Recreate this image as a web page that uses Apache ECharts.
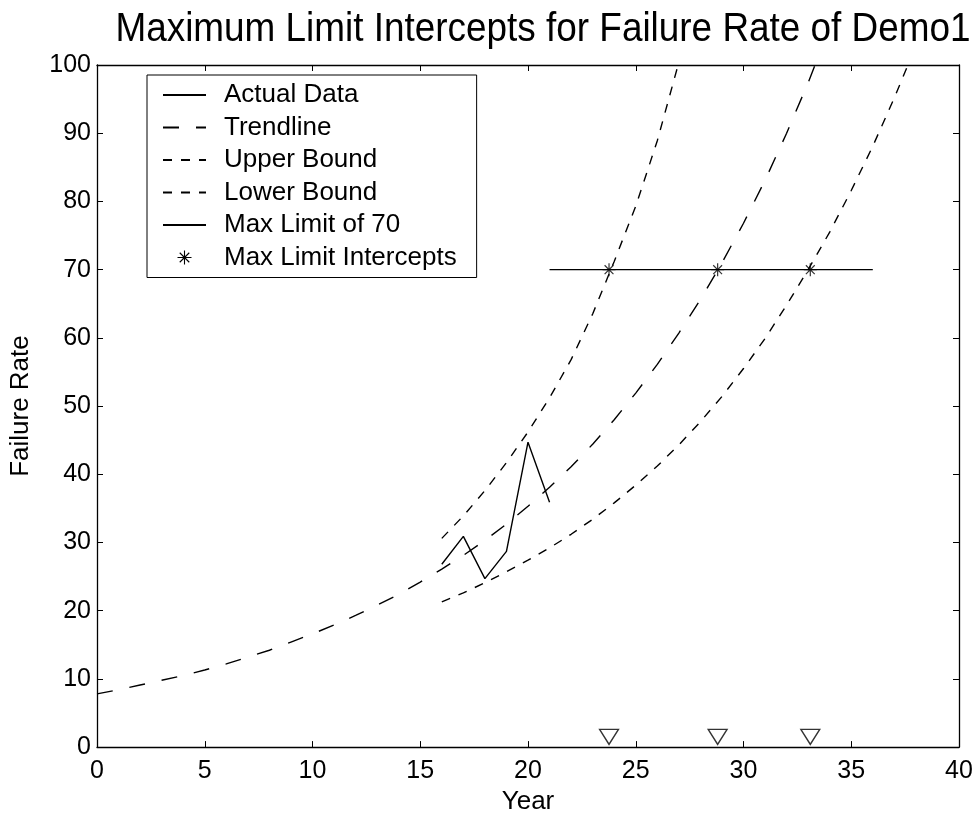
<!DOCTYPE html>
<html>
<head>
<meta charset="utf-8">
<script src="https://cdn.jsdelivr.net/npm/echarts@6/dist/echarts.min.js"></script>
<style>
html,body{margin:0;padding:0;background:#fff;}
#chart{width:978px;height:820px;}
</style>
</head>
<body>
<div id="chart"></div>
<script>
const titleText = 'Maximum Limit Intercepts for Failure Rate of Demo1';
const xTickLabels = [0, 5, 10, 15, 20, 25, 30, 35, 40];
const yTickLabels = [0, 10, 20, 30, 40, 50, 60, 70, 80, 90, 100];

const actualYears = [16, 17, 18, 19, 20, 21];
const actualValues = [26.8, 30.9, 24.7, 28.7, 44.7, 35.9];

const trendYears = [0,1,2,3,4,5,6,7,8,9,10,11,12,13,14,15,16,17,18,19,20,21,22,23,24,25,26,27,28,29,30,31,32,33,34];
const trendValues = [7.8,8.4,9.1,9.8,10.5,11.3,12.2,13.2,14.2,15.4,16.6,17.9,19.3,20.8,22.4,24.2,26.1,28.1,30.3,32.7,35.3,38.1,41.1,44.4,48.0,51.9,56.1,60.7,65.6,71.0,76.8,83.1,90.0,97.4,105.5];

const upperYears = [16,17,18,19,20,21,22,23,24,25,26,27];
const upperValues = [30.6,33.9,37.6,41.7,46.2,51.2,56.8,63.5,71.2,79.3,88.9,100.4];

const lowerYears = [16,17,18,19,20,21,22,23,24,25,26,27,28,29,30,31,32,33,34,35,36,37,38];
const lowerValues = [21.3,22.6,24.1,25.7,27.4,29.2,31.2,33.4,35.8,38.4,41.2,44.3,47.7,51.4,55.5,59.9,64.8,70.0,75.5,81.6,88.1,95.2,102.8];

const limitYears = [21, 36];
const limitValue = 70;

const interceptYears = [23.76, 28.8, 33.1];
const markerLevel = 1.5;

const seriesNames = ['Actual Data', 'Trendline', 'Upper Bound', 'Lower Bound', 'Max Limit of 70', 'Max Limit Intercepts'];

const zip = (xs, ys) => xs.map((x, i) => [x, ys[i]]);
const FONT = '"Liberation Sans", Arial, sans-serif';
const asterisk = 'path://M0,5L10,5M5,0L5,10M1.6,1.6L8.4,8.4M8.4,1.6L1.6,8.4';

const chart = echarts.init(document.getElementById('chart'), null, {renderer: 'canvas'});

const axisCommon = {
  axisLine: {show: true, onZero: false, lineStyle: {color: '#000', width: 1.3}},
  axisTick: {show: true, inside: true, length: 6, lineStyle: {color: '#000', width: 1}},
  splitLine: {show: false}
};

const legendData = seriesNames.map((n, i) => i < 5
  ? {name: n, itemStyle: {opacity: 0}}
  : {name: n, itemStyle: {opacity: 1, color: 'rgba(0,0,0,0)', borderColor: '#000', borderWidth: 1.1}});

const option = {
  backgroundColor: '#fff',
  animation: false,
  graphic: [{
    type: 'text',
    x: 543, y: 30,
    scaleX: 0.9,
    style: {
      text: titleText,
      font: '41px ' + FONT,
      fill: '#000',
      textAlign: 'center',
      textVerticalAlign: 'middle'
    }
  }],
  grid: {left: 97, right: 19, top: 65, bottom: 72, containLabel: false},
  legend: {
    data: legendData,
    orient: 'vertical',
    left: 147, top: 75,
    padding: [7, 20, 7, 15],
    itemWidth: 43, itemHeight: 14, itemGap: 6.5,
    borderColor: '#000', borderWidth: 1,
    backgroundColor: '#fff',
    selectedMode: false,
    textStyle: {fontFamily: FONT, fontSize: 26, color: '#000', lineHeight: 26, padding: [0, 0, 0, 13]}
  },
  xAxis: [
    Object.assign({}, axisCommon, {
      type: 'value', min: 0, max: 40, interval: 5, position: 'bottom',
      name: 'Year', nameLocation: 'middle', nameGap: 40,
      nameTextStyle: {fontFamily: FONT, fontSize: 26, color: '#000'},
      axisLabel: {fontFamily: FONT, fontSize: 25, color: '#000', margin: 12,
        formatter: v => xTickLabels.includes(v) ? String(v) : ''}
    }),
    Object.assign({}, axisCommon, {
      type: 'value', min: 0, max: 40, interval: 5, position: 'top',
      axisLabel: {show: false}
    })
  ],
  yAxis: [
    Object.assign({}, axisCommon, {
      type: 'value', min: 0, max: 100, interval: 10, position: 'left',
      name: 'Failure Rate', nameLocation: 'middle', nameGap: 63,
      nameTextStyle: {fontFamily: FONT, fontSize: 26, color: '#000'},
      axisLabel: {fontFamily: FONT, fontSize: 25, color: '#000', margin: 6,
        formatter: v => yTickLabels.includes(v) ? String(v) : ''}
    }),
    Object.assign({}, axisCommon, {
      type: 'value', min: 0, max: 100, interval: 10, position: 'right',
      axisLabel: {show: false}
    })
  ],
  series: [
    {
      name: seriesNames[0], type: 'line', data: zip(actualYears, actualValues),
      symbol: 'none', lineStyle: {color: '#000', width: 1.4, type: 'solid'},
      itemStyle: {color: '#000'}, clip: true, z: 5
    },
    {
      name: seriesNames[1], type: 'line', data: zip(trendYears, trendValues),
      symbol: 'none', lineStyle: {color: '#000', width: 1.4, type: [16, 17]},
      itemStyle: {color: '#000'}, clip: true
    },
    {
      name: seriesNames[2], type: 'line', data: zip(upperYears, upperValues),
      symbol: 'none', lineStyle: {color: '#000', width: 1.4, type: [9, 9]},
      itemStyle: {color: '#000'}, clip: true
    },
    {
      name: seriesNames[3], type: 'line', data: zip(lowerYears, lowerValues),
      symbol: 'none', lineStyle: {color: '#000', width: 1.4, type: [9, 9]},
      itemStyle: {color: '#000'}, clip: true
    },
    {
      name: seriesNames[4], type: 'line', data: limitYears.map(x => [x, limitValue]),
      symbol: 'none', lineStyle: {color: '#000', width: 1.4, type: 'solid'},
      itemStyle: {color: '#000'}, clip: true
    },
    {
      name: seriesNames[5], type: 'scatter', data: interceptYears.map(x => [x, limitValue]),
      symbol: asterisk, symbolSize: 13,
      itemStyle: {color: 'rgba(0,0,0,0)', borderColor: '#000', borderWidth: 1.2}, z: 6
    },
    {
      name: 'Intercept Markers', type: 'scatter', data: interceptYears.map(x => [x, markerLevel]),
      symbol: 'triangle', symbolRotate: 180, symbolSize: [19, 15],
      itemStyle: {color: '#fff', borderColor: '#000', borderWidth: 1.3}, z: 6
    }
  ]
};
chart.setOption(option);
</script>
</body>
</html>
